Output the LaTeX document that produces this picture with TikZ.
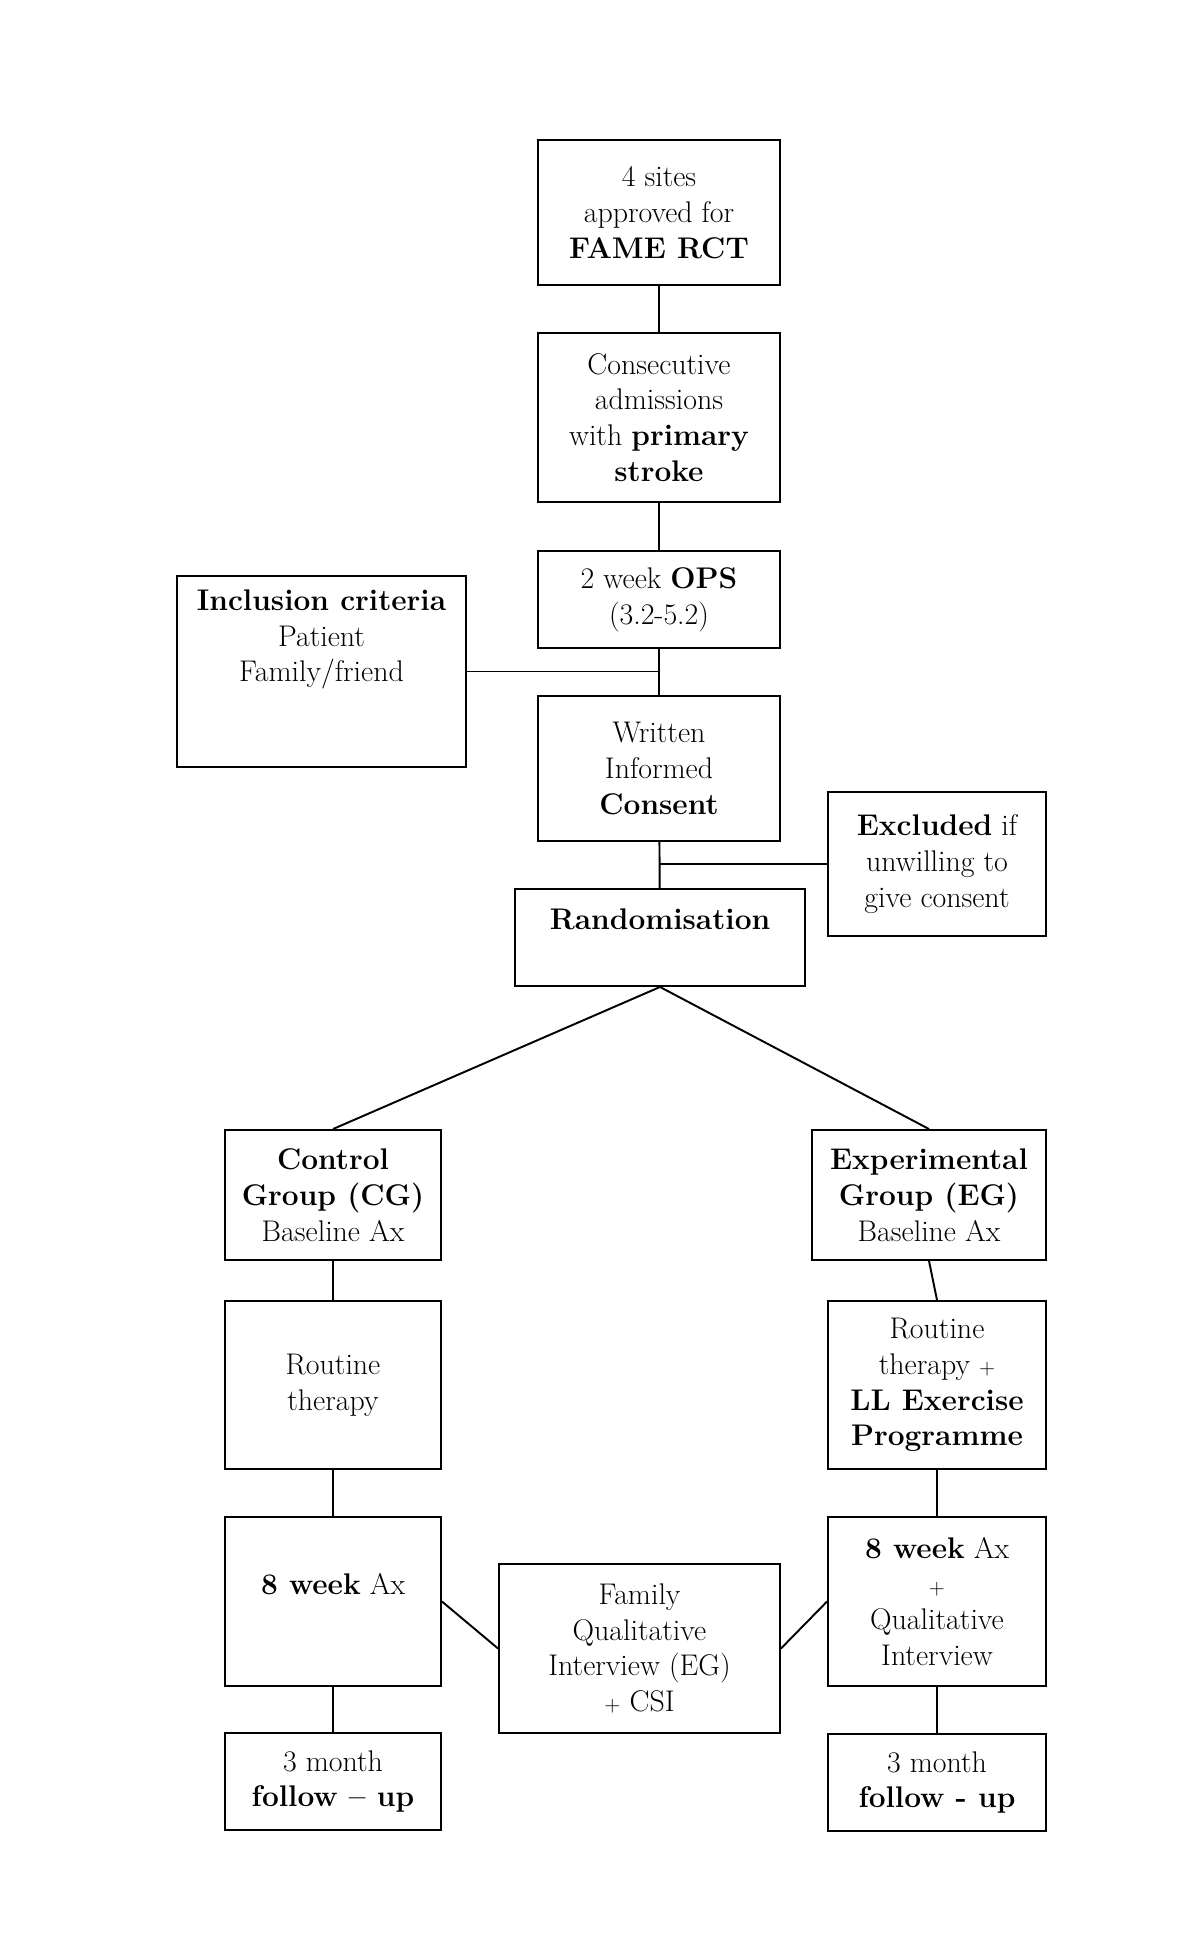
\documentclass[tikz,border=0pt]{standalone}
\newcommand{\smallplus}{{\fontsize{12}{12}\selectfont +}}
\begin{document}
\begin{tikzpicture}[line width=1.1pt,
		box/.style={draw, align=center, inner sep=2pt, font=\fontsize{17}{20.4}\selectfont}]
		\useasboundingbox (0,0) rectangle (24,-38.98);
		\node[box, minimum width=4.84cm, minimum height=2.9cm] (sites) at (13.18,-4.25) {4 sites\\approved for\\\textbf{FAME RCT}};
		\node[box, minimum width=4.84cm, minimum height=3.38cm] (admit) at (13.18,-8.35) {Consecutive\\admissions\\with \textbf{primary}\\\textbf{stroke}};
		\node[box, minimum width=4.84cm, minimum height=1.94cm] (ops) at (13.18,-11.99) {2 week \textbf{OPS}\\(3.2-5.2)};
		\node[box, minimum width=5.78cm, minimum height=3.82cm] (incl) at (6.43,-13.43) {\textbf{Inclusion criteria}\\Patient\\Family/friend\\~\\~};
		\node[box, minimum width=4.84cm, minimum height=2.9cm] (consent) at (13.18,-15.37) {Written\\Informed\\\textbf{Consent}};
		\node[box, minimum width=4.36cm, minimum height=2.88cm] (excl) at (18.74,-17.28) {\textbf{Excluded} if\\unwilling to\\give consent};
		\node[box, minimum width=5.8cm, minimum height=1.94cm] (rand) at (13.2,-18.75) {\textbf{Randomisation}\\~};
		\node[box, minimum width=4.32cm, minimum height=2.6cm] (ctrl) at (6.66,-23.9) {\textbf{Control}\\\textbf{Group (CG)}\\Baseline Ax};
		\node[box, minimum width=4.68cm, minimum height=2.6cm] (expt) at (18.58,-23.9) {\textbf{Experimental}\\\textbf{Group (EG)}\\Baseline Ax};
		\node[box, minimum width=4.32cm, minimum height=3.36cm] (routL) at (6.66,-27.7) {Routine\\therapy};
		\node[box, minimum width=4.36cm, minimum height=3.36cm] (routR) at (18.74,-27.7) {Routine\\therapy \smallplus\\\textbf{LL Exercise}\\\textbf{Programme}};
		\node[box, minimum width=4.32cm, minimum height=3.38cm] (weekL) at (6.66,-32.03) {\textbf{8 week} Ax\\~};
		\node[box, minimum width=4.36cm, minimum height=3.38cm] (weekR) at (18.74,-32.03) {\textbf{8 week} Ax\\\smallplus\\Qualitative\\Interview};
		\node[box, minimum width=5.62cm, minimum height=3.38cm] (family) at (12.79,-32.97) {Family\\Qualitative\\Interview (EG)\\\smallplus{} CSI};
		\node[box, minimum width=4.32cm, minimum height=1.94cm] (monthL) at (6.66,-35.63) {3 month\\\textbf{follow -- up}};
		\node[box, minimum width=4.36cm, minimum height=1.94cm] (monthR) at (18.74,-35.65) {3 month\\\textbf{follow - up}};
		\draw (sites) -- (admit);
		\draw (admit) -- (ops);
		\draw (ops) -- (consent);
		\draw (incl.east) -- (incl.east -| ops.south);
		\draw (consent) -- (rand);
		\draw (excl.west) -- (excl.west -| consent.south);
		\draw (rand.south) -- (ctrl.north);
		\draw (rand.south) -- (expt.north);
		\draw (ctrl) -- (routL);
		\draw (expt.south) -- (routR.north);
		\draw (routL) -- (weekL);
		\draw (routR) -- (weekR);
		\draw (weekL.east) -- (family.west);
		\draw (family.east) -- (weekR.west);
		\draw (weekL) -- (monthL);
		\draw (weekR) -- (monthR);
	\end{tikzpicture}
\end{document}
